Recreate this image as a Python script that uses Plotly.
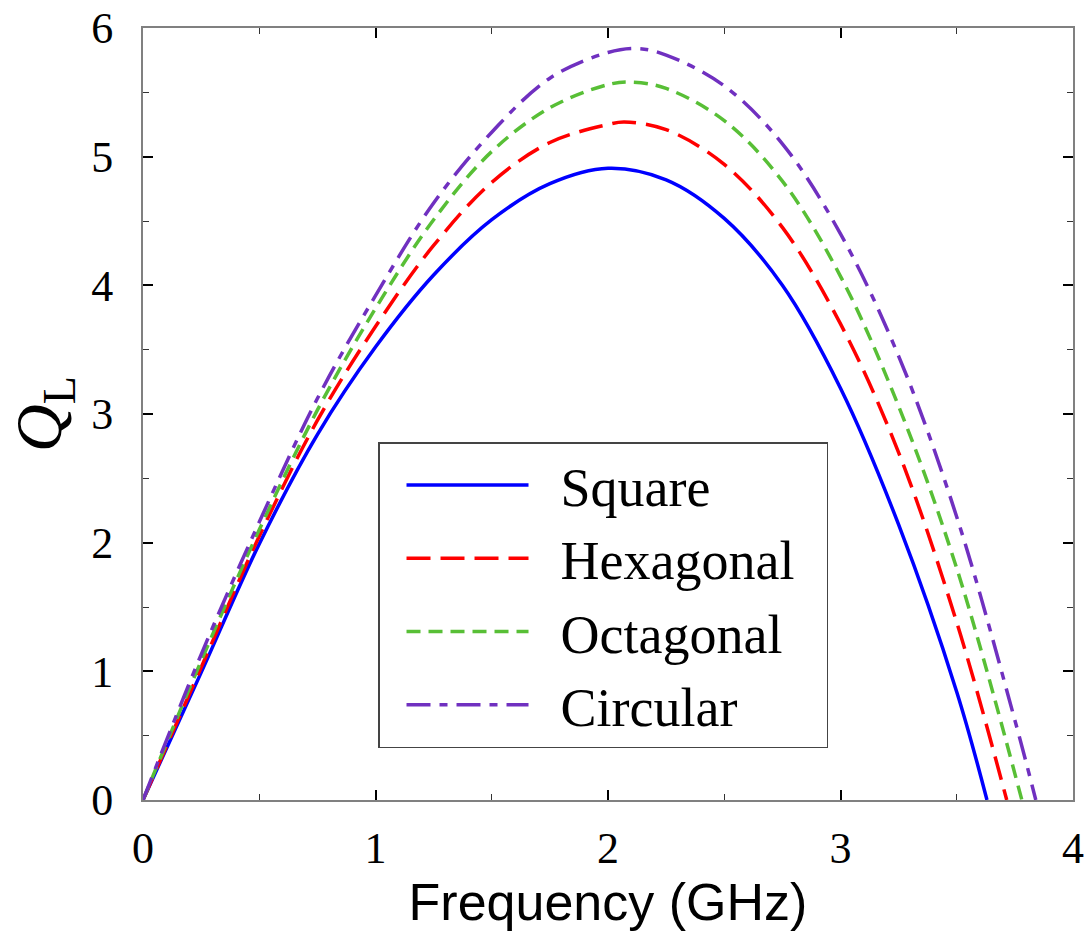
import plotly.graph_objects as go

# Frequency (GHz) and Q_L values
x_square = [0, 0.25, 0.5, 0.75, 1.0, 1.25, 1.5, 1.75, 2.0, 2.25, 2.5, 2.75, 3.0, 3.25, 3.5, 3.63]
q_square = [0, 0.99, 1.99, 2.84, 3.52, 4.08, 4.51, 4.79, 4.91, 4.82, 4.52, 4.00, 3.20, 2.14, 0.84, 0]

x_hex = [0, 0.25, 0.5, 0.75, 1.0, 1.25, 1.5, 1.75, 2.0, 2.07, 2.25, 2.5, 2.75, 3.0, 3.25, 3.5, 3.715]
q_hex = [0, 1.03, 2.05, 2.95, 3.68, 4.31, 4.80, 5.11, 5.25, 5.27, 5.21, 4.94, 4.45, 3.70, 2.70, 1.38, 0]

x_oct = [0, 0.25, 0.5, 0.75, 1.0, 1.25, 1.5, 1.75, 2.0, 2.1, 2.25, 2.5, 2.75, 3.0, 3.25, 3.5, 3.78]
q_oct = [0, 1.08, 2.10, 3.03, 3.82, 4.51, 5.04, 5.38, 5.56, 5.58, 5.53, 5.28, 4.81, 4.07, 3.06, 1.80, 0]

x_circ = [0, 0.25, 0.5, 0.75, 1.0, 1.25, 1.5, 1.75, 2.0, 2.13, 2.25, 2.5, 2.75, 3.0, 3.25, 3.5, 3.75, 3.84]
q_circ = [0, 1.13, 2.16, 3.12, 3.92, 4.64, 5.19, 5.61, 5.81, 5.84, 5.79, 5.55, 5.10, 4.40, 3.45, 2.20, 0.62, 0]

series_names = ["Square", "Hexagonal", "Octagonal", "Circular"]
x_ticks = [0, 1, 2, 3, 4]
y_ticks = [0, 1, 2, 3, 4, 5, 6]

styles = [
    dict(color="#0000ff", dash="solid"),
    dict(color="#ff0000", dash="24px,10px"),
    dict(color="#58bf36", dash="14px,8px"),
    dict(color="#7030c0", dash="24px,9px,8px,9px"),
]

fig = go.Figure()
for name, xs, ys, st in zip(series_names,
                            [x_square, x_hex, x_oct, x_circ],
                            [q_square, q_hex, q_oct, q_circ], styles):
    fig.add_trace(go.Scatter(
        x=xs, y=ys, mode="lines", name="\u00a0\u00a0" + name + "\u00a0\u00a0",
        line=dict(color=st["color"], dash=st["dash"], width=3.5, shape="spline", smoothing=1.0),
    ))

tickfont = dict(family="Liberation Serif", size=44, color="black")

fig.update_xaxes(
    range=[0, 4], tickvals=x_ticks, ticktext=[str(v) for v in x_ticks],
    ticks="inside", ticklen=10, tickwidth=1.5, tickcolor="black",
    minor=dict(dtick=0.5, tick0=0, ticks="inside", ticklen=6, tickwidth=1.2, tickcolor="#333"),
    showline=True, linecolor="#808080", linewidth=2, mirror="ticks",
    showgrid=False, zeroline=False, tickfont=tickfont, ticklabelstandoff=8,
    automargin=False,
    title=dict(text="Frequency (GHz)", font=dict(family="Liberation Sans", size=52, color="black"), standoff=0),
)
fig.update_yaxes(
    range=[0, 6], tickvals=y_ticks, ticktext=[str(v) for v in y_ticks],
    ticks="inside", ticklen=10, tickwidth=1.5, tickcolor="black",
    minor=dict(dtick=0.5, tick0=0, ticks="inside", ticklen=6, tickwidth=1.2, tickcolor="#333"),
    showline=True, linecolor="#808080", linewidth=2, mirror="ticks",
    showgrid=False, zeroline=False, tickfont=tickfont, ticklabelstandoff=19,
    automargin=False,
    title=dict(text="<i>Q</i><sub>L</sub>", font=dict(family="Liberation Serif", size=66, color="black"), standoff=8),
)

fig.update_layout(
    width=1087, height=941,
    margin=dict(l=143, r=14, t=28, b=141),
    plot_bgcolor="white", paper_bgcolor="white",
    showlegend=True,
    legend=dict(
        x=0.2527, y=0.4637, xanchor="left", yanchor="top",
        bgcolor="white", bordercolor="#444", borderwidth=1.5,
        font=dict(family="Liberation Serif", size=54, color="black"),
        itemwidth=122, tracegroupgap=0, indentation=22,
    ),
)

fig.write_html("out.html")
